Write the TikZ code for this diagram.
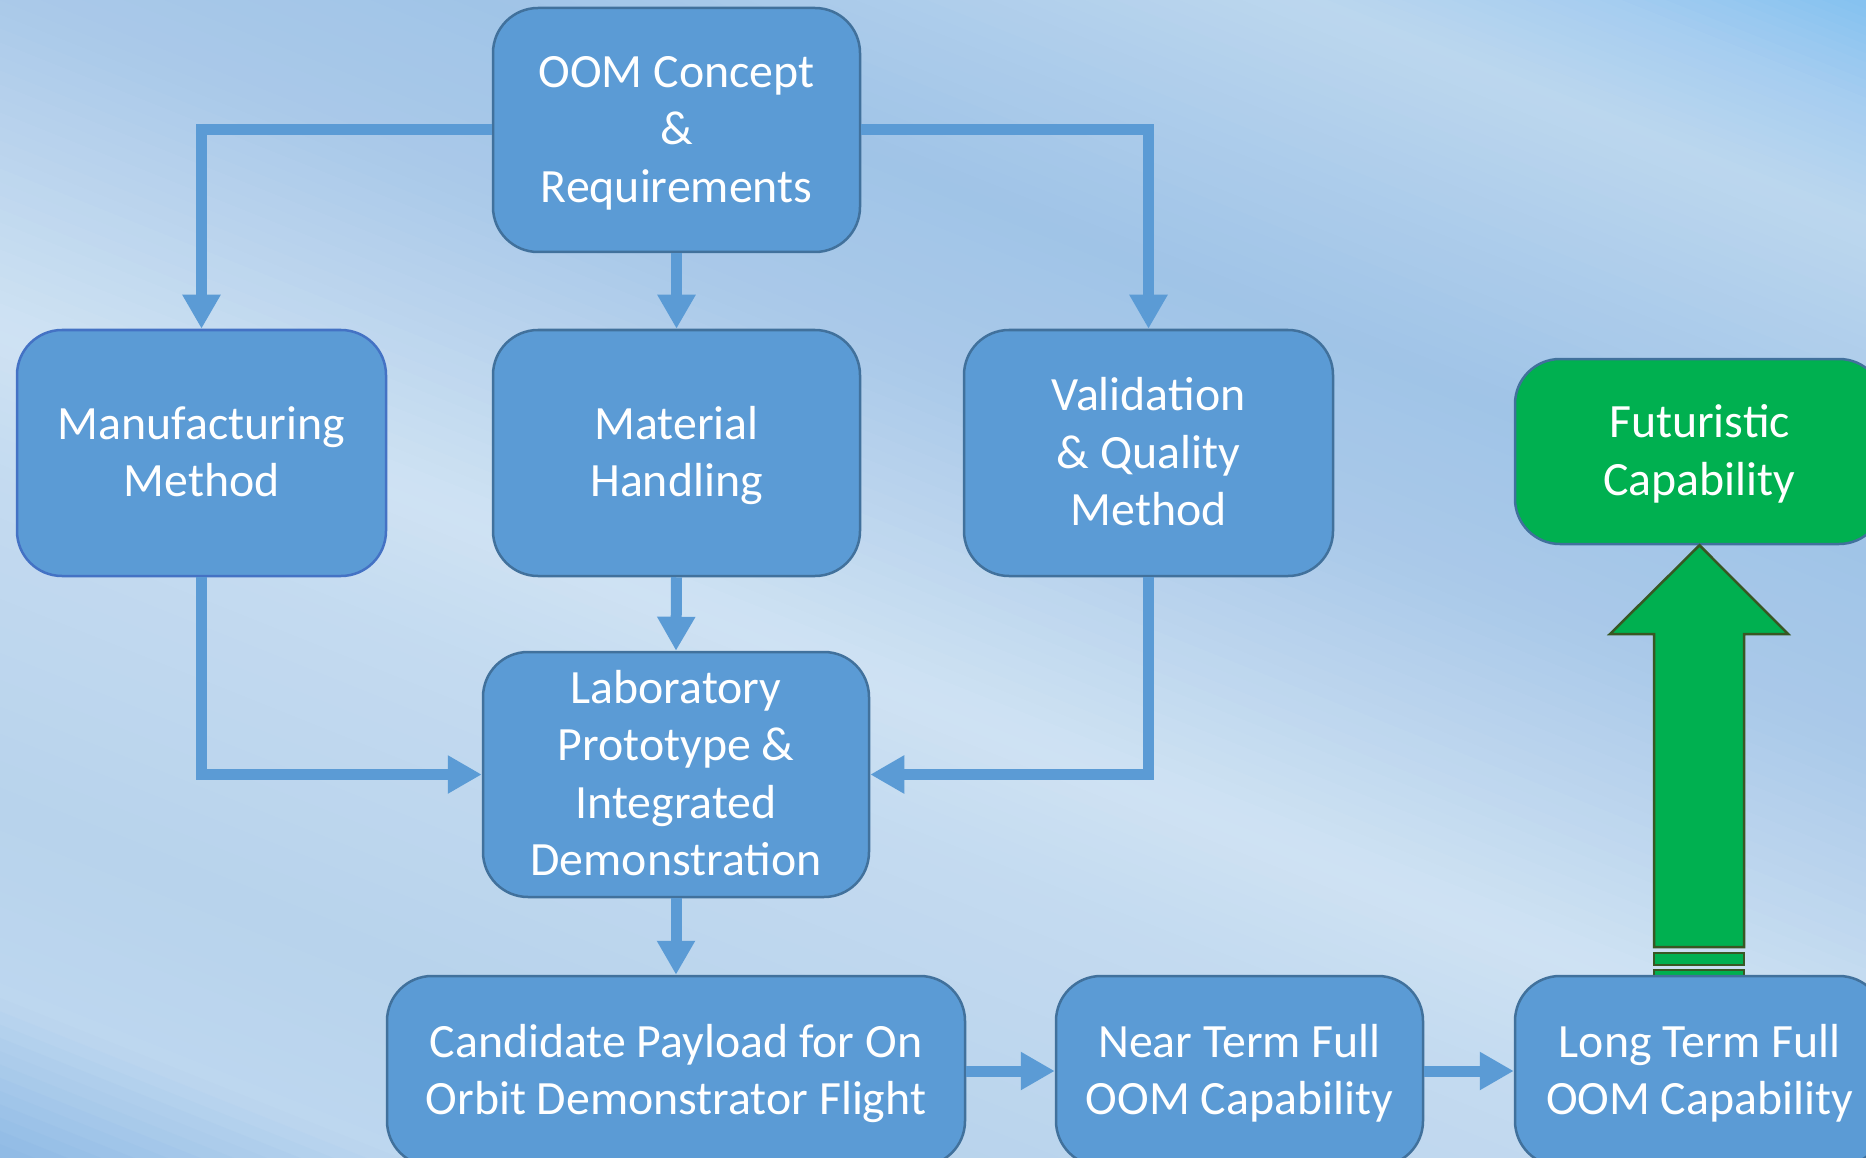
\documentclass[tikz,border=0pt]{standalone}
\usepackage{fontspec}
\setmainfont{Carlito}
\usetikzlibrary{arrows.meta}
\definecolor{boxblue}{HTML}{5B9BD5}
\definecolor{boxedge}{HTML}{41719C}
\definecolor{boxedgeB}{HTML}{4472C4}
\definecolor{grn}{HTML}{00B050}
\definecolor{grnedge}{HTML}{385723}
\definecolor{bg0}{HTML}{78BBF0}
\definecolor{bg1}{HTML}{84C1F0}
\definecolor{bg2}{HTML}{A6CDF0}
\definecolor{bg3}{HTML}{BCD7EE}
\definecolor{bg4}{HTML}{AECDEB}
\definecolor{bg5}{HTML}{A0C4E7}
\definecolor{bg6}{HTML}{AAC9E9}
\definecolor{bg7}{HTML}{BDD6EE}
\definecolor{bg8}{HTML}{CFE2F3}
\definecolor{bg9}{HTML}{C3DAF0}
\definecolor{bg10}{HTML}{B8D3EC}
\definecolor{bg11}{HTML}{BDD7EF}
\definecolor{bg12}{HTML}{8FBAE5}
\definecolor{bg13}{HTML}{88B5E3}
\newcommand\mystrut{\rule[-12pt]{0pt}{54pt}}
\begin{document}
\begin{tikzpicture}[x=1pt,y=-1pt,
  box/.style={draw=boxedge, line width=2.5pt, fill=boxblue, rounded corners=45pt,
    text=white, align=center, inner sep=0pt,
    font=\fontsize{47.8}{57.5}\selectfont},
  conn/.style={draw=boxblue, line width=11pt, line join=miter,
    -{Triangle[width=36pt,length=34pt]}},
  greenarrow/.style={draw=grnedge, line width=2.5pt, fill=grn, line join=miter}]
\clip (0,0) rectangle (1866,1158);
\fill[bg6] (0,0) rectangle (1866,1158);
% background gradient bands
\foreach \sa/\sb/\ca/\cb in {-1150/-999/bg0/bg1, -999/-900/bg1/bg2, -900/-790/bg2/bg3,
  -790/-650/bg3/bg4, -650/-490/bg4/bg5, -490/-306/bg5/bg6, -306/-150/bg6/bg7,
  -150/0/bg7/bg8, 0/150/bg8/bg9, 150/450/bg9/bg10, 450/620/bg10/bg11,
  620/768/bg11/bg12, 768/900/bg12/bg13}{
  \foreach \k in {0,...,11}{
    \pgfmathsetmacro\ya{330+(\sa+(\sb-\sa)*\k/12)/0.928}
    \pgfmathsetmacro\yb{330+(\sa+(\sb-\sa)*(\k+1.4)/12)/0.928}
    \pgfmathtruncatemacro\p{100-(\k+0.5)*100/12}
    \fill[\ca!\p!\cb] (-50,{\ya-20}) -- (1920,{\ya+768}) -- (1920,{\yb+768}) -- (-50,{\yb-20}) -- cycle;
  }
}
% nodes
\node[box, minimum width=367pt, minimum height=244pt] (oom) at (676.5,130)
  {\mystrut OOM Concept\\\mystrut\&\\\mystrut Requirements};
\node[box, draw=boxedgeB, minimum width=369pt, minimum height=246pt] (manu) at (201.5,453)
  {\mystrut Manufacturing\\\mystrut Method};
\node[box, minimum width=367pt, minimum height=246pt] (mat) at (676.5,453)
  {\mystrut Material\\\mystrut Handling};
\node[box, minimum width=369pt, minimum height=246pt] (val) at (1148.5,453)
  {\mystrut Validation\\\mystrut\& Quality\\\mystrut Method};
\node[box, fill=grn, minimum width=369pt, minimum height=185pt] (fut) at (1699.5,451.5)
  {\mystrut Futuristic\\\mystrut Capability};
\node[box, minimum width=386pt, minimum height=245pt] (lab) at (676,774.5)
  {\mystrut Laboratory\\\mystrut Prototype \&\\\mystrut Integrated\\\mystrut Demonstration};
% green block arrow
\draw[greenarrow] (1654,947) -- (1654,634) -- (1610,634) -- (fut.south) -- (1788,634) -- (1744,634) -- (1744,947) -- cycle;
\draw[greenarrow] (1654,953) rectangle (1744,965);
\draw[greenarrow] (1654,970) rectangle (1744,995);
\node[box, minimum width=578pt, minimum height=190pt] (cand) at (676,1071)
  {\mystrut Candidate Payload for On\\\mystrut Orbit Demonstrator Flight};
\node[box, minimum width=367pt, minimum height=190pt] (near) at (1239.5,1071)
  {\mystrut Near Term Full\\\mystrut OOM Capability};
\node[box, minimum width=369pt, minimum height=190pt] (long) at (1699.5,1071)
  {\mystrut Long Term Full\\\mystrut OOM Capability};
% connectors
\draw[conn] (oom.west) -| (manu.north);
\draw[conn] (oom.east) -| (val.north);
\draw[conn] (oom.south) -- (mat.north);
\draw[conn] (mat.south) -- (lab.north);
\draw[conn] (manu.south) |- (lab.west);
\draw[conn] (val.south) |- (lab.east);
\draw[conn] (lab.south) -- (cand.north);
\draw[conn] (cand.east) -- (near.west);
\draw[conn] (near.east) -- (long.west);
\end{tikzpicture}
\end{document}
